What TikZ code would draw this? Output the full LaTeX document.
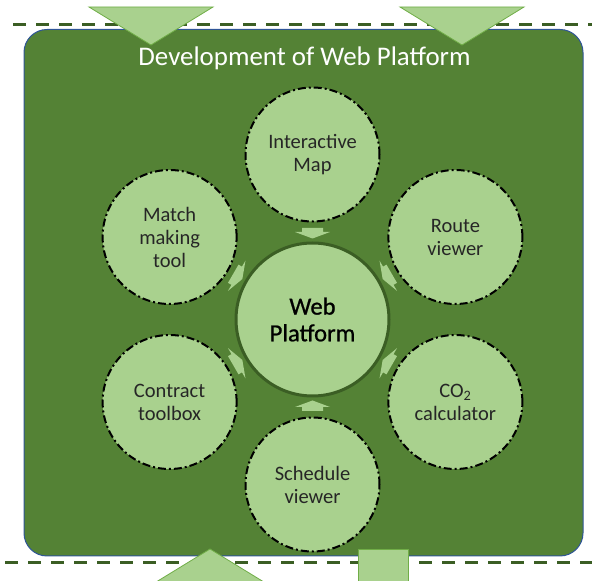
\documentclass[tikz,border=0pt]{standalone}
\usepackage{fontspec}
\setmainfont{Carlito}
\newfontfamily\hubfont[FakeBold=0.8]{Carlito}
\definecolor{panelgreen}{HTML}{548235}
\definecolor{lightgreen}{HTML}{A9D18E}
\definecolor{deepgreen}{HTML}{3B5E24}
\definecolor{edgeblue}{HTML}{2F5597}
\definecolor{midgreen}{HTML}{70AD47}
\begin{document}
\begin{tikzpicture}[x=1pt,y=1pt]
	\tikzstyle{panel} = [fill=panelgreen, draw=edgeblue, line width=1, rounded corners=23]
	\tikzstyle{rule} = [draw=deepgreen, line width=3.5, dash pattern=on 13.3pt off 9.7pt]
	\tikzstyle{flow} = [fill=lightgreen, draw=midgreen, line width=0.8]
	\tikzstyle{hub} = [shape=circle, minimum size=153, inner sep=0, fill=lightgreen, draw=deepgreen,
			line width=3, align=center, font=\hubfont\fontsize{24.6}{26.7}\selectfont, text=black]
	\tikzstyle{tool} = [shape=circle, minimum size=134, inner sep=0, fill=lightgreen, draw=black,
			line width=2, dash pattern=on 8pt off 3pt on 2pt off 3pt, align=center,
			font=\fontsize{20.5}{23}\selectfont, text=black!85]
	\tikzstyle{feed} = [fill=lightgreen]
	\tikzstyle{title} = [text=white, inner sep=0, font=\fontsize{26.9}{30}\selectfont]

	\useasboundingbox (0,0) rectangle (592,581);
	\path [panel] (24,25) rectangle (583,551.5);
	\draw [rule] (13,556.3) -- (600,556.3);
	\draw [rule] (5,18.5) -- (600,18.5);

	% in and out of the platform work
	\path [flow] (89,574) -- (213,574) -- (151,536) -- cycle;
	\path [flow] (400,574) -- (524,574) -- (462,536) -- cycle;
	\path [flow] (210,32) -- (272,-6) -- (148,-6) -- cycle;
	\path [flow] (358,32) rectangle (408,-10);

	\node [title, anchor=base] (title) at (304.5,515) {Development of Web Platform};

	\begin{scope}[shift={(312.5,261.5)}]
	\node [hub] (web) at (0,0) {Web\\Platform};
	\node [tool] (map) at (90:165) {Interactive\\Map};
	\node [tool] (route) at (30:165) {Route\\viewer};
	\node [tool] (co2) at (-30:165) {CO\textsubscript{2}\\calculator};
	\node [tool] (sched) at (-90:165) {Schedule\\viewer};
	\node [tool] (contract) at (-150:165) {Contract\\toolbox};
	\node [tool] (match) at (150:165) {Match\\making\\tool};
	\end{scope}

	\foreach \a in {90,30,-30,-90,-150,150}{
		\begin{scope}[shift={(web.center)}, rotate=\a]
		\path [feed] (91.5,10.5) -- (87.5,10.5) -- (87.5,17.5) -- (81,0) -- (87.5,-17.5)
			-- (87.5,-10.5) -- (91.5,-10.5) -- cycle;
		\end{scope}
	}
\end{tikzpicture}
\end{document}
